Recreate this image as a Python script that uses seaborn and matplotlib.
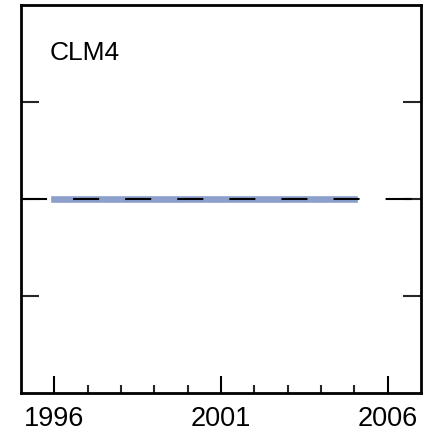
import matplotlib
matplotlib.use("Agg")
import matplotlib.pyplot as plt
import seaborn as sns
import numpy as np
import pandas as pd

years = [1996, 1997, 1998, 1999, 2000, 2001, 2002, 2003, 2004, 2005]
values = [0, 0, 0, 0, 0, 0, 0, 0, 0, 0]
ref_value = 0
x_major = [1996, 2001, 2006]
x_minor = list(range(1995, 2008))
y_ticks = [-1, 0, 1]
label = "CLM4"

sns.set_theme(style="white")
plt.rcParams['font.family'] = ['Liberation Sans', 'DejaVu Sans']

fig = plt.figure(figsize=(4.26, 4.32), dpi=100)
ax = fig.add_axes([21/426, 1 - 393/432, 400/426, 388/432])

df = pd.DataFrame({"year": years, "value": values})
sns.lineplot(data=df, x="year", y="value", ax=ax, color="#8da0cb", linewidth=4.8,
             solid_capstyle="projecting", zorder=2)
ax.axhline(ref_value, color="black", linewidth=1.5, linestyle=(0, (12.5, 12.5)), zorder=3)

ax.set_xlim(1995, 2007)
ax.set_ylim(-2, 2)
ax.set_xticks(x_major)
ax.set_xticklabels([str(v) for v in x_major])
ax.set_xticks([v for v in x_minor if v not in x_major and 1995 < v < 2007], minor=True)
ax.set_yticks(y_ticks)
ax.set_yticklabels([])
ax.set_xlabel("")
ax.set_ylabel("")

ax.tick_params(axis="x", which="major", direction="in", length=12, width=1.5,
               labelsize=19.5, pad=9, colors="black", bottom=True, top=False)
ax.tick_params(axis="x", which="minor", direction="in", length=6, width=1.5,
               bottom=True, top=False)
ax.tick_params(axis="y", which="major", direction="in", length=13, width=1.5,
               left=True, right=True, labelleft=False)

for s in ax.spines.values():
    s.set_visible(True)
    s.set_color("black")
    s.set_linewidth(2)

ax.text(29/400, (393-60)/388, label, transform=ax.transAxes, fontsize=19,
        ha="left", va="baseline", color="black")

fig.savefig("out.png", dpi=100)
